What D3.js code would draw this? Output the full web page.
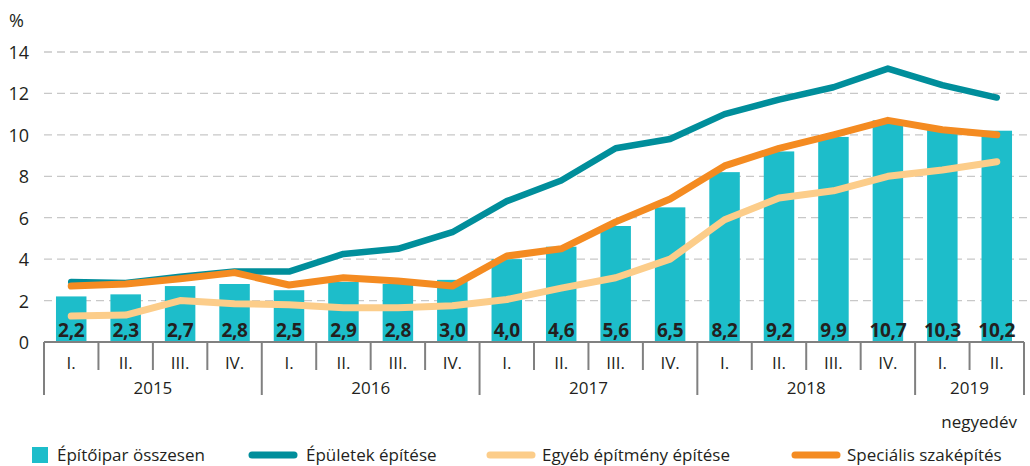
<!DOCTYPE html>
<html>
<head>
<meta charset="utf-8">
<script src="https://cdn.jsdelivr.net/npm/d3@7"></script>
<style>
  body { margin: 0; background: #fff; }
  svg { display: block; font-family: "Open Sans", sans-serif; }
</style>
</head>
<body>
<div id="chart"></div>
<script>
// quarters, years and series
var quarters = ["I.","II.","III.","IV.","I.","II.","III.","IV.","I.","II.","III.","IV.","I.","II.","III.","IV.","I.","II."]
var years = ["2015","2016","2017","2018","2019"]
var yearCounts = [4, 4, 4, 4, 2]

var total     = [2.2, 2.3, 2.7, 2.8, 2.5, 2.9, 2.8, 3.0, 4.0, 4.6, 5.6, 6.5, 8.2, 9.2, 9.9, 10.7, 10.3, 10.2]
var buildings = [2.9, 2.85, 3.15, 3.4, 3.4, 4.25, 4.5, 5.3, 6.8, 7.8, 9.35, 9.8, 11.0, 11.7, 12.3, 13.2, 12.4, 11.8]
var other     = [1.25, 1.3, 2.0, 1.85, 1.8, 1.65, 1.65, 1.75, 2.05, 2.6, 3.1, 4.0, 5.9, 6.95, 7.3, 8.0, 8.3, 8.7]
var special   = [2.7, 2.8, 3.05, 3.35, 2.75, 3.1, 2.95, 2.7, 4.15, 4.5, 5.8, 6.9, 8.5, 9.35, 10.0, 10.7, 10.25, 10.0]

var yTicks = [0, 2, 4, 6, 8, 10, 12, 14]

var COLORS = {
  bar: "#1dbdca",
  buildings: "#008e9b",
  other: "#fccd8a",
  special: "#f48b21",
  grid: "#c8c8c8",
  axis: "#808080",
  text: "#231f20"
}

var W = 1030, H = 466
var plotLeft = 44, plotRight = 1024, plotTop = 52, base = 342

var svg = d3.select("#chart").append("svg")
  .attr("width", W)
  .attr("height", H)

var idx = d3.range(quarters.length)

var x = d3.scaleBand().domain(idx).range([plotLeft, plotRight])
  .paddingInner(0.44).paddingOuter(0.22)
var step = x.step()
var cx = function(i){ return x(i) + x.bandwidth() / 2 }

var y = d3.scaleLinear().domain([0, 14]).range([base, plotTop])

// gridlines
svg.append("g").selectAll("line")
  .data(yTicks.filter(function(t){ return t > 0 }))
  .enter().append("line")
  .attr("x1", plotLeft).attr("x2", plotRight + 3)
  .attr("y1", function(d){ return y(d) }).attr("y2", function(d){ return y(d) })
  .attr("stroke", COLORS.grid)
  .attr("stroke-width", 1.3)
  .attr("stroke-dasharray", "8,5")

// y tick labels
svg.append("g").selectAll("text")
  .data(yTicks)
  .enter().append("text")
  .attr("x", 29)
  .attr("y", function(d){ return y(d) + 7 })
  .attr("text-anchor", "end")
  .attr("font-size", 18)
  .attr("fill", COLORS.text)
  .text(function(d){ return d })

svg.append("text")
  .attr("x", 9).attr("y", 27)
  .attr("font-size", 18)
  .attr("fill", COLORS.text)
  .text("%")

// bars
svg.append("g").selectAll("rect")
  .data(total)
  .enter().append("rect")
  .attr("x", function(d, i){ return x(i) })
  .attr("width", x.bandwidth())
  .attr("y", function(d){ return y(d) })
  .attr("height", function(d){ return base - y(d) })
  .attr("fill", COLORS.bar)

// lines
var line = d3.line()
  .x(function(d, i){ return cx(i) })
  .y(function(d){ return y(d) })

function drawLine(data, color, w){
  svg.append("path")
    .datum(data)
    .attr("d", line)
    .attr("fill", "none")
    .attr("stroke", color)
    .attr("stroke-width", w)
    .attr("stroke-linejoin", "round")
    .attr("stroke-linecap", "round")
}
drawLine(other, COLORS.other, 7)
drawLine(buildings, COLORS.buildings, 6.5)
drawLine(special, COLORS.special, 7)

// bar value labels
svg.append("g").selectAll("text")
  .data(total)
  .enter().append("text")
  .attr("x", function(d, i){ return cx(i) })
  .attr("y", base - 5)
  .attr("text-anchor", "middle")
  .attr("font-size", 19)
  .attr("font-weight", "bold")
  .attr("letter-spacing", -0.3)
  .attr("fill", COLORS.text)
  .text(function(d){ return d.toFixed(1).replace(".", ",") })

// x axis
var axis = svg.append("g")
axis.append("line")
  .attr("x1", plotLeft).attr("x2", plotRight)
  .attr("y1", base).attr("y2", base)
  .attr("stroke", COLORS.axis).attr("stroke-width", 2)

var yearStarts = [0]
yearCounts.forEach(function(c, k){ yearStarts.push(yearStarts[k] + c) })

axis.selectAll(".qtick")
  .data(d3.range(quarters.length + 1))
  .enter().append("line")
  .attr("x1", function(i){ return plotLeft + i * step })
  .attr("x2", function(i){ return plotLeft + i * step })
  .attr("y1", base)
  .attr("y2", function(i){ return yearStarts.indexOf(i) >= 0 ? 395 : 370 })
  .attr("stroke", COLORS.axis).attr("stroke-width", 2)

axis.selectAll(".qlab")
  .data(quarters)
  .enter().append("text")
  .attr("x", function(d, i){ return cx(i) })
  .attr("y", 369)
  .attr("text-anchor", "middle")
  .attr("font-size", 17)
  .attr("fill", COLORS.text)
  .text(function(d){ return d })

axis.selectAll(".ylab")
  .data(years)
  .enter().append("text")
  .attr("x", function(d, k){ return plotLeft + (yearStarts[k] + yearCounts[k] / 2) * step })
  .attr("y", 394)
  .attr("text-anchor", "middle")
  .attr("font-size", 17)
  .attr("fill", COLORS.text)
  .text(function(d){ return d })

svg.append("text")
  .attr("x", 1017).attr("y", 428)
  .attr("text-anchor", "end")
  .attr("font-size", 17)
  .attr("fill", COLORS.text)
  .text("negyedév")

// legend
var legendY = 455
var lg = svg.append("g")
lg.append("rect")
  .attr("x", 32).attr("y", legendY - 8).attr("width", 16).attr("height", 16)
  .attr("fill", COLORS.bar)

var legendLines = [
  { x: 252, label: "Épületek építése", color: COLORS.buildings, tx: 306 },
  { x: 490, label: "Egyéb építmény építése", color: COLORS.other, tx: 542 },
  { x: 795, label: "Speciális szaképítés", color: COLORS.special, tx: 847 }
]
lg.append("text")
  .attr("x", 57).attr("y", legendY + 6)
  .attr("font-size", 17).attr("fill", COLORS.text)
  .text("Építőipar összesen")

legendLines.forEach(function(l){
  lg.append("line")
    .attr("x1", l.x).attr("x2", l.x + 42)
    .attr("y1", legendY).attr("y2", legendY)
    .attr("stroke", l.color).attr("stroke-width", 7)
    .attr("stroke-linecap", "round")
  lg.append("text")
    .attr("x", l.tx).attr("y", legendY + 6)
    .attr("font-size", 17).attr("fill", COLORS.text)
    .text(l.label)
})
</script>
</body>
</html>
